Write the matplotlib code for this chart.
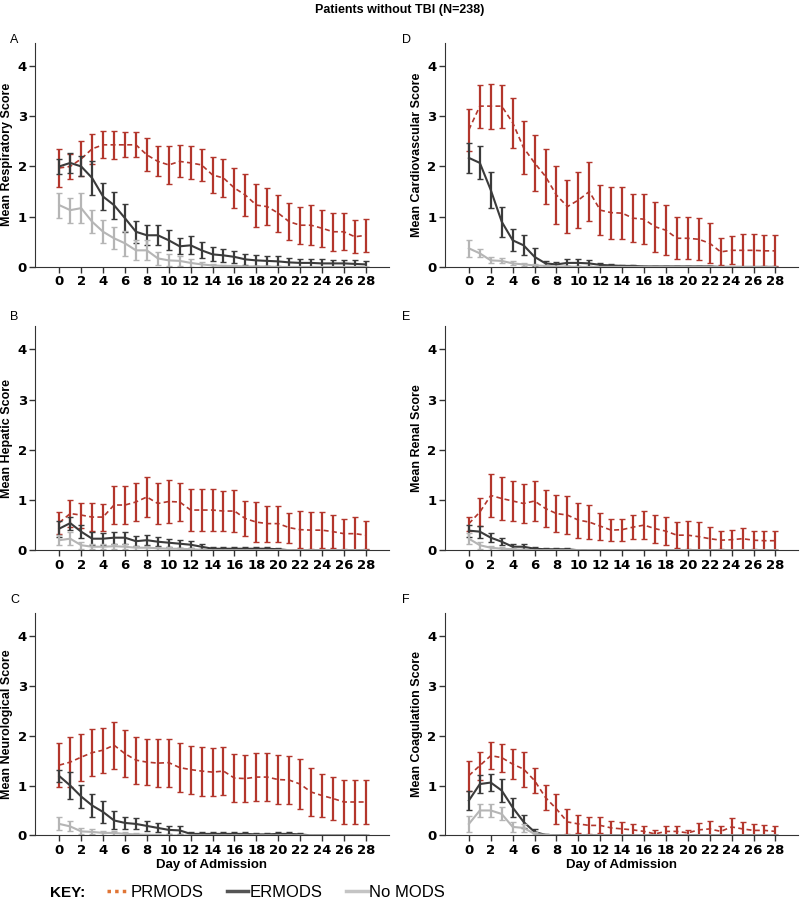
import matplotlib.pyplot as plt
import numpy as np

days = list(range(29))

# Respiratory (A)
resp_pr = [1.97, 2.0, 2.15, 2.35, 2.43, 2.43, 2.43, 2.43, 2.23, 2.1, 2.03, 2.1, 2.07, 2.03, 1.83, 1.77,
           1.57, 1.43, 1.23, 1.2, 1.07, 0.9, 0.83, 0.83, 0.77, 0.7, 0.7, 0.6, 0.63]
resp_pr_err = [0.38, 0.25, 0.35, 0.3, 0.27, 0.28, 0.25, 0.25, 0.33, 0.3, 0.37, 0.32, 0.33, 0.32, 0.35, 0.37,
               0.4, 0.42, 0.43, 0.37, 0.37, 0.37, 0.37, 0.4, 0.37, 0.38, 0.37, 0.33, 0.33]
resp_er = [2.0, 2.07, 2.0, 1.77, 1.4, 1.23, 0.97, 0.7, 0.63, 0.63, 0.53, 0.41, 0.43, 0.33, 0.25, 0.23,
           0.2, 0.15, 0.13, 0.12, 0.11, 0.09, 0.08, 0.08, 0.07, 0.07, 0.07, 0.06, 0.05]
resp_er_err = [0.15, 0.2, 0.2, 0.33, 0.27, 0.27, 0.28, 0.22, 0.2, 0.2, 0.2, 0.16, 0.18, 0.16, 0.14, 0.13,
               0.12, 0.11, 0.11, 0.1, 0.1, 0.09, 0.08, 0.08, 0.08, 0.07, 0.07, 0.07, 0.07]
resp_no = [1.23, 1.13, 1.17, 0.9, 0.7, 0.57, 0.47, 0.33, 0.33, 0.17, 0.13, 0.12, 0.08, 0.05, 0.03, 0.02,
           0.02, 0.01, 0.01, 0.01, 0, 0, 0, 0, 0, 0, 0, 0, 0]
resp_no_err = [0.25, 0.25, 0.3, 0.23, 0.23, 0.22, 0.25, 0.2, 0.2, 0.13, 0.12, 0.1, 0.08, 0.05, 0.03, 0.02,
               0.02, 0.01, 0.01, 0.01, 0, 0, 0, 0, 0, 0, 0, 0, 0]

# Hepatic (B)
hep_pr = [0.55, 0.73, 0.7, 0.66, 0.66, 0.9, 0.9, 0.96, 1.06, 0.93, 0.97, 0.96, 0.8, 0.8, 0.8, 0.78,
          0.78, 0.63, 0.56, 0.53, 0.53, 0.45, 0.41, 0.4, 0.4, 0.37, 0.33, 0.33, 0.3]
hep_pr_err = [0.22, 0.27, 0.25, 0.28, 0.27, 0.38, 0.37, 0.38, 0.4, 0.4, 0.42, 0.38, 0.42, 0.42, 0.42, 0.4,
              0.42, 0.35, 0.4, 0.36, 0.36, 0.3, 0.37, 0.37, 0.36, 0.33, 0.3, 0.33, 0.28]
hep_er = [0.43, 0.54, 0.37, 0.23, 0.23, 0.25, 0.25, 0.18, 0.2, 0.17, 0.15, 0.13, 0.11, 0.07, 0.03, 0.03,
          0.03, 0.03, 0.03, 0.03, 0.02, 0, 0, 0, 0, 0, 0, 0, 0]
hep_er_err = [0.16, 0.13, 0.13, 0.13, 0.12, 0.12, 0.12, 0.1, 0.1, 0.09, 0.08, 0.08, 0.07, 0.05, 0.03, 0.03,
              0.03, 0.03, 0.03, 0.03, 0.02, 0, 0, 0, 0, 0, 0, 0, 0]
hep_no = [0.2, 0.23, 0.1, 0.07, 0.07, 0.08, 0.07, 0.05, 0.05, 0.04, 0.03, 0.03, 0.02, 0.01, 0, 0,
          0, 0, 0, 0, 0, 0, 0, 0, 0, 0, 0, 0, 0]
hep_no_err = [0.1, 0.13, 0.07, 0.05, 0.05, 0.05, 0.05, 0.04, 0.04, 0.03, 0.03, 0.02, 0.02, 0.01, 0, 0,
              0, 0, 0, 0, 0, 0, 0, 0, 0, 0, 0, 0, 0]

# Neurological (C)
neuro_pr = [1.41, 1.47, 1.57, 1.66, 1.71, 1.81, 1.64, 1.51, 1.47, 1.45, 1.46, 1.36, 1.32, 1.29, 1.27, 1.29,
            1.15, 1.14, 1.17, 1.17, 1.12, 1.11, 1.03, 0.87, 0.8, 0.74, 0.67, 0.67, 0.67]
neuro_pr_err = [0.44, 0.5, 0.47, 0.47, 0.45, 0.47, 0.47, 0.47, 0.46, 0.48, 0.48, 0.49, 0.48, 0.49, 0.48, 0.48,
                0.48, 0.48, 0.48, 0.48, 0.49, 0.49, 0.5, 0.48, 0.44, 0.44, 0.45, 0.45, 0.45]
neuro_er = [1.19, 1.0, 0.78, 0.6, 0.47, 0.3, 0.25, 0.23, 0.19, 0.15, 0.11, 0.1, 0.03, 0.03, 0.03, 0.03,
            0.03, 0.03, 0.02, 0.02, 0.03, 0.03, 0.02, 0, 0, 0, 0, 0, 0]
neuro_er_err = [0.12, 0.27, 0.24, 0.24, 0.22, 0.18, 0.12, 0.11, 0.1, 0.09, 0.08, 0.08, 0.03, 0.03, 0.03, 0.03,
                0.03, 0.03, 0.02, 0.02, 0.03, 0.03, 0.02, 0, 0, 0, 0, 0, 0]
neuro_no = [0.23, 0.18, 0.08, 0.07, 0.05, 0.05, 0.03, 0.02, 0.01, 0.01, 0, 0, 0, 0, 0, 0,
            0, 0, 0, 0, 0, 0, 0, 0, 0, 0, 0, 0, 0]
neuro_no_err = [0.13, 0.1, 0.06, 0.05, 0.04, 0.04, 0.03, 0.02, 0.01, 0.01, 0, 0, 0, 0, 0, 0,
                0, 0, 0, 0, 0, 0, 0, 0, 0, 0, 0, 0, 0]

# Cardiovascular (D)
cardio_pr = [2.73, 3.2, 3.2, 3.2, 2.87, 2.37, 2.07, 1.8, 1.43, 1.2, 1.33, 1.5, 1.13, 1.08, 1.07, 0.97,
             0.95, 0.8, 0.73, 0.57, 0.57, 0.55, 0.47, 0.3, 0.33, 0.33, 0.33, 0.32, 0.32]
cardio_pr_err = [0.42, 0.43, 0.45, 0.43, 0.5, 0.53, 0.55, 0.55, 0.57, 0.53, 0.55, 0.58, 0.5, 0.52, 0.52, 0.48,
                 0.5, 0.5, 0.5, 0.42, 0.42, 0.42, 0.4, 0.27, 0.28, 0.33, 0.33, 0.31, 0.31]
cardio_er = [2.17, 2.07, 1.53, 0.9, 0.53, 0.43, 0.2, 0.07, 0.05, 0.08, 0.08, 0.07, 0.04, 0.03, 0.02, 0.02,
             0.01, 0.01, 0.01, 0.01, 0.01, 0.01, 0.01, 0, 0, 0, 0, 0, 0]
cardio_er_err = [0.3, 0.33, 0.35, 0.3, 0.22, 0.2, 0.18, 0.05, 0.05, 0.07, 0.07, 0.06, 0.04, 0.03, 0.02, 0.02,
                 0.01, 0.01, 0.01, 0.01, 0.01, 0.01, 0.01, 0, 0, 0, 0, 0, 0]
cardio_no = [0.37, 0.27, 0.13, 0.12, 0.07, 0.05, 0.03, 0.02, 0.01, 0.01, 0, 0, 0, 0, 0, 0,
             0, 0, 0, 0, 0, 0, 0, 0, 0, 0, 0, 0, 0]
cardio_no_err = [0.17, 0.08, 0.06, 0.05, 0.04, 0.03, 0.03, 0.02, 0.01, 0.01, 0, 0, 0, 0, 0, 0,
                 0, 0, 0, 0, 0, 0, 0, 0, 0, 0, 0, 0, 0]

# Renal (E)
renal_pr = [0.53, 0.76, 1.09, 1.03, 0.98, 0.93, 0.98, 0.83, 0.73, 0.7, 0.6, 0.56, 0.48, 0.4, 0.41, 0.46,
            0.5, 0.43, 0.38, 0.3, 0.3, 0.27, 0.23, 0.2, 0.21, 0.23, 0.2, 0.19, 0.19]
renal_pr_err = [0.14, 0.28, 0.43, 0.43, 0.4, 0.38, 0.4, 0.37, 0.36, 0.37, 0.35, 0.34, 0.27, 0.22, 0.22, 0.24,
                0.28, 0.28, 0.28, 0.26, 0.28, 0.29, 0.23, 0.18, 0.2, 0.22, 0.18, 0.19, 0.19]
renal_er = [0.39, 0.37, 0.25, 0.17, 0.07, 0.07, 0.03, 0.02, 0.02, 0.02, 0, 0, 0, 0, 0, 0,
            0, 0, 0, 0, 0, 0, 0, 0, 0, 0, 0, 0, 0]
renal_er_err = [0.12, 0.12, 0.09, 0.07, 0.05, 0.05, 0.03, 0.02, 0.02, 0.02, 0, 0, 0, 0, 0, 0,
                0, 0, 0, 0, 0, 0, 0, 0, 0, 0, 0, 0, 0]
renal_no = [0.23, 0.1, 0.05, 0.03, 0.02, 0.01, 0, 0, 0, 0, 0, 0, 0, 0, 0, 0,
            0, 0, 0, 0, 0, 0, 0, 0, 0, 0, 0, 0, 0]
renal_no_err = [0.11, 0.07, 0.04, 0.03, 0.02, 0.01, 0, 0, 0, 0, 0, 0, 0, 0, 0, 0,
                0, 0, 0, 0, 0, 0, 0, 0, 0, 0, 0, 0, 0]

# Coagulation (F)
coag_pr = [1.2, 1.4, 1.6, 1.56, 1.43, 1.33, 1.1, 0.76, 0.53, 0.27, 0.23, 0.2, 0.2, 0.15, 0.13, 0.11,
           0.08, 0.03, 0.08, 0.08, 0.05, 0.11, 0.13, 0.08, 0.17, 0.13, 0.1, 0.1, 0.08]
coag_pr_err = [0.3, 0.28, 0.27, 0.28, 0.3, 0.35, 0.25, 0.25, 0.3, 0.25, 0.18, 0.17, 0.16, 0.14, 0.13, 0.12,
               0.11, 0.08, 0.1, 0.1, 0.06, 0.13, 0.15, 0.11, 0.18, 0.14, 0.13, 0.11, 0.1]
coag_er = [0.7, 1.03, 1.06, 0.9, 0.56, 0.27, 0.07, 0.01, 0, 0, 0, 0, 0, 0, 0, 0,
           0, 0, 0, 0, 0, 0, 0, 0, 0, 0, 0, 0, 0]
coag_er_err = [0.2, 0.18, 0.17, 0.23, 0.2, 0.13, 0.06, 0.01, 0, 0, 0, 0, 0, 0, 0, 0,
               0, 0, 0, 0, 0, 0, 0, 0, 0, 0, 0, 0, 0]
coag_no = [0.23, 0.5, 0.5, 0.43, 0.17, 0.15, 0.03, 0.01, 0, 0, 0, 0, 0, 0, 0, 0,
           0, 0, 0, 0, 0, 0, 0, 0, 0, 0, 0, 0, 0]
coag_no_err = [0.16, 0.13, 0.13, 0.13, 0.1, 0.08, 0.03, 0.01, 0, 0, 0, 0, 0, 0, 0, 0,
               0, 0, 0, 0, 0, 0, 0, 0, 0, 0, 0, 0, 0]

panels = [
    ("A", "Mean Respiratory Score", resp_pr, resp_pr_err, resp_er, resp_er_err, resp_no, resp_no_err),
    ("B", "Mean Hepatic Score", hep_pr, hep_pr_err, hep_er, hep_er_err, hep_no, hep_no_err),
    ("C", "Mean Neurological Score", neuro_pr, neuro_pr_err, neuro_er, neuro_er_err, neuro_no, neuro_no_err),
    ("D", "Mean Cardiovascular Score", cardio_pr, cardio_pr_err, cardio_er, cardio_er_err, cardio_no, cardio_no_err),
    ("E", "Mean Renal Score", renal_pr, renal_pr_err, renal_er, renal_er_err, renal_no, renal_no_err),
    ("F", "Mean Coagulation Score", coag_pr, coag_pr_err, coag_er, coag_er_err, coag_no, coag_no_err),
]

RED = "#b3362c"
DARK = "#3b3b3b"
LIGHT = "#b5b5b5"

fig = plt.figure(figsize=(8, 9.11), dpi=100)

# axes boxes (left, bottom, width, height) in figure fraction
lefts = [0.044, 0.044, 0.044, 0.556, 0.556, 0.556]
bottoms = [0.707, 0.396, 0.083, 0.707, 0.396, 0.083]
heights = [0.246, 0.246, 0.244, 0.246, 0.246, 0.244]
# panel letter positions in pixels from top-left
letter_x = [10, 10, 10, 402, 402, 402]
letter_y = [40, 317, 600, 40, 317, 600]


def draw_group(ax, mean, err, color, ls, lw):
    mean = np.array(mean)
    err = np.array(err)
    lower = np.minimum(err, mean)  # bars stop at 0
    ax.errorbar(days, mean, yerr=[lower, err], fmt="none", ecolor=color,
                elinewidth=1.6, capsize=2, capthick=1.0)
    ax.plot(days, mean, color=color, linestyle=ls, linewidth=lw)


for i, (letter, ylabel, pr, pr_e, er, er_e, no, no_e) in enumerate(panels):
    ax = fig.add_axes([lefts[i], bottoms[i], 0.442, heights[i]])
    draw_group(ax, pr, pr_e, RED, (0, (3, 2)), 1.2)
    draw_group(ax, er, er_e, DARK, "-", 1.5)
    draw_group(ax, no, no_e, LIGHT, "-", 1.5)

    ax.set_xlim(-2.2, 30.1)
    ax.set_ylim(0, 4.46)
    ax.set_xticks(range(0, 29, 2))
    ax.set_yticks([0, 1, 2, 3, 4])
    ax.spines["top"].set_visible(False)
    ax.spines["right"].set_visible(False)
    ax.spines["left"].set_color("#333333")
    ax.spines["bottom"].set_color("#333333")
    ax.tick_params(direction="out", length=4, width=1, colors="#333333", pad=2)
    for lab in ax.get_xticklabels() + ax.get_yticklabels():
        lab.set_fontsize(9.5)
        lab.set_fontweight("bold")
        lab.set_color("black")
    ax.set_ylabel(ylabel, fontsize=9, fontweight="bold", family="Liberation Sans", labelpad=3)
    if letter in ("C", "F"):
        ax.set_xlabel("Day of Admission", fontsize=9.5, fontweight="bold",
                      family="Liberation Sans", labelpad=2)
    fig.text(letter_x[i] / 800, 1 - letter_y[i] / 911, letter, fontsize=9,
             family="Liberation Sans", va="center")

fig.text(0.5, 0.989, "Patients without TBI (N=238)", ha="center", va="center",
         fontsize=9, fontweight="bold", family="Liberation Sans")

# key at the bottom
fig.text(0.062, 0.02, "KEY:", fontsize=11, fontweight="bold", family="Liberation Sans", va="center")
h_pr = plt.Line2D([], [], color="#e07535", linestyle=(0, (1, 1.2)), linewidth=2.5)
h_er = plt.Line2D([], [], color="#555555", linestyle="-", linewidth=2.5)
h_no = plt.Line2D([], [], color="#c4c4c4", linestyle="-", linewidth=2.5)
fig.legend([h_pr, h_er, h_no], ["PRMODS", "ERMODS", "No MODS"], ncol=3, frameon=False,
           loc="center left", bbox_to_anchor=(0.115, 0.02), handlelength=1.3, handletextpad=0.1,
           columnspacing=1.4, prop={"family": "Liberation Sans", "size": 12})

fig.savefig("out.png", dpi=100)
